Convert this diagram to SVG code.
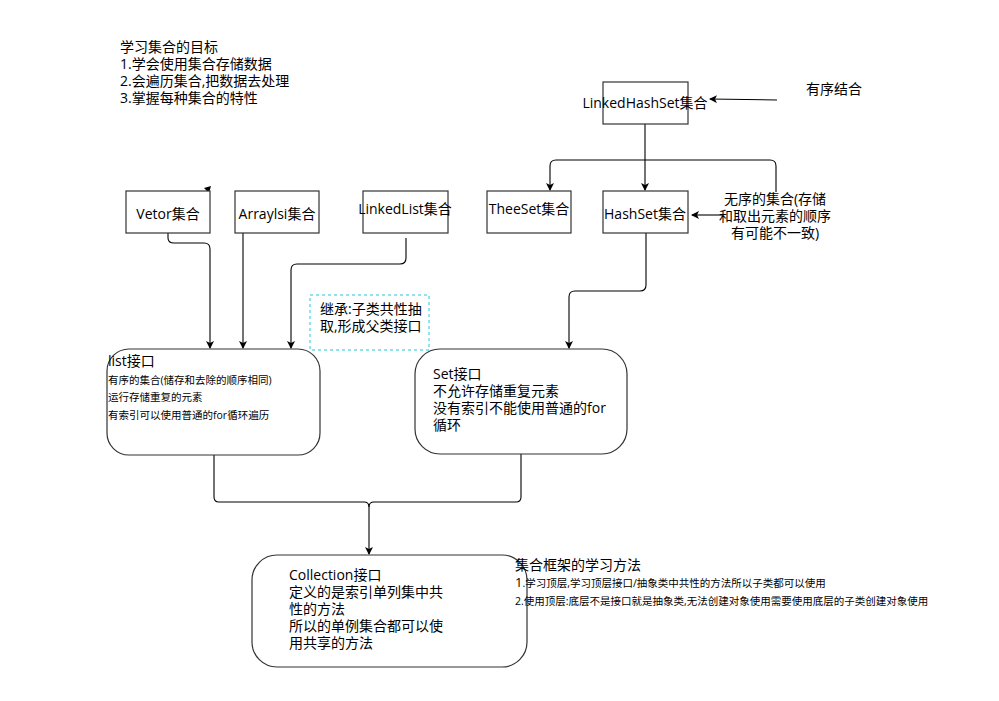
<svg xmlns="http://www.w3.org/2000/svg" width="999" height="701" viewBox="0 0 999 701">
<defs>
<style>
text{font-family:"Open Sans","Noto Sans CJK SC",sans-serif;fill:#000}
.t13{font-size:14px}
.t10{font-size:10.5px}
.box{fill:#fff;stroke:#333;stroke-width:1.2}
.ln{fill:none;stroke:#000;stroke-width:1.1;marker-end:url(#ah)}
.ln2{fill:none;stroke:#000;stroke-width:1.1}
</style>
<marker id="ah" markerWidth="8" markerHeight="8" refX="7" refY="4" orient="auto" markerUnits="userSpaceOnUse">
<path d="M0,0 L8,4 L0,8 L2,4 Z" fill="#000"/>
</marker>
</defs>
<rect width="999" height="701" fill="#fff"/>

<g id="goals">
<text class="t13" x="120" y="52">学习集合的目标</text>
<text class="t13" x="120" y="69">1.学会使用集合存储数据</text>
<text class="t13" x="120" y="86">2.会遍历集合,把数据去处理</text>
<text class="t13" x="120" y="103">3.掌握每种集合的特性</text>
</g>

<g id="connectors">
<path class="ln" d="M777,100 L710,99"/>
<path class="ln" d="M645,124 L645,190"/>
<path class="ln" d="M776,192 L776,166 Q776,160 770,160 L556,160 Q550,160 550,166 L550,190"/>
<path class="ln" d="M722,215 L692,215"/>
<path class="ln" d="M168,233 L168,238 Q168,243 174,243 L204,243 Q210,243 210,249 L210,348"/>
<path class="ln" d="M243,233 L243,348"/>
<path class="ln" d="M406,238 L406,258 Q406,264 400,264 L297,264 Q291,264 291,270 L291,348"/>
<path class="ln" d="M646,233 L646,285 Q646,291 640,291 L575,291 Q569,291 569,297 L569,348"/>
<path class="ln2" d="M214,455 L214,497 Q214,502 219,502 L364,502 Q369,502 369,507"/>
<path class="ln2" d="M521,454 L521,497 Q521,502 516,502 L374,502 Q369,502 369,507"/>
<path class="ln" d="M369,507 L369,554"/>
<path d="M204,188 L211,186 L209,193 Z" fill="#000"/>
</g>

<g id="linkedhashset">
<rect class="box" x="603" y="82" width="85" height="42"/>
<text class="t13" x="645" y="108" text-anchor="middle">LinkedHashSet集合</text>
</g>
<g id="ordered-label">
<text class="t13" x="806" y="94">有序结合</text>
</g>
<g id="vetor">
<rect class="box" x="126" y="191" width="84" height="42"/>
<text class="t13" x="168" y="219" text-anchor="middle">Vetor集合</text>
</g>
<g id="arraylsi">
<rect class="box" x="235" y="191" width="84" height="42"/>
<text class="t13" x="277" y="219" text-anchor="middle">Arraylsi集合</text>
</g>
<g id="linkedlist">
<rect class="box" x="363" y="191" width="85" height="42"/>
<text class="t13" x="405" y="214" text-anchor="middle">LinkedList集合</text>
</g>
<g id="theeset">
<rect class="box" x="487" y="191" width="84" height="42"/>
<text class="t13" x="529" y="214" text-anchor="middle">TheeSet集合</text>
</g>
<g id="hashset">
<rect class="box" x="603" y="191" width="85" height="42"/>
<text class="t13" x="645" y="219" text-anchor="middle">HashSet集合</text>
</g>
<g id="unordered-label">
<text class="t13" x="775" y="204" text-anchor="middle">无序的集合(存储</text>
<text class="t13" x="775" y="221" text-anchor="middle">和取出元素的顺序</text>
<text class="t13" x="775" y="238" text-anchor="middle">有可能不一致)</text>
</g>
<g id="inherit-note">
<rect x="310" y="295" width="119" height="55" fill="none" stroke="#26c6da" stroke-width="1" stroke-dasharray="3,3"/>
<text class="t13" x="320" y="314">继承:子类共性抽</text>
<text class="t13" x="320" y="331">取,形成父类接口</text>
</g>
<g id="list">
<rect class="box" x="107" y="349" width="213" height="106" rx="22"/>
<text class="t13" x="108" y="366">list接口</text>
<text class="t10" x="108" y="384">有序的集合(储存和去除的顺序相同)</text>
<text class="t10" x="108" y="401">运行存储重复的元素</text>
<text class="t10" x="108" y="419">有索引可以使用普通的for循环遍历</text>
</g>
<g id="set">
<rect class="box" x="415" y="349" width="212" height="105" rx="25"/>
<text class="t13" x="433" y="379">Set接口</text>
<text class="t13" x="433" y="396">不允许存储重复元素</text>
<text class="t13" x="433" y="413">没有索引不能使用普通的for</text>
<text class="t13" x="433" y="430">循环</text>
</g>
<g id="collection">
<rect class="box" x="252" y="555" width="275" height="112" rx="25"/>
<text class="t13" x="289" y="580">Collection接口</text>
<text class="t13" x="289" y="597">定义的是索引单列集中共</text>
<text class="t13" x="289" y="614">性的方法</text>
<text class="t13" x="289" y="631">所以的单例集合都可以使</text>
<text class="t13" x="289" y="648">用共享的方法</text>
</g>
<g id="method">
<text class="t13" x="515" y="570">集合框架的学习方法</text>
<text class="t10" x="515" y="587"><tspan font-size="13">1</tspan>.学习顶层,学习顶层接口/抽象类中共性的方法所以子类都可以使用</text>
<text class="t10" x="515" y="605">2.使用顶层:底层不是接口就是抽象类,无法创建对象使用需要使用底层的子类创建对象使用</text>
</g>
</svg>
